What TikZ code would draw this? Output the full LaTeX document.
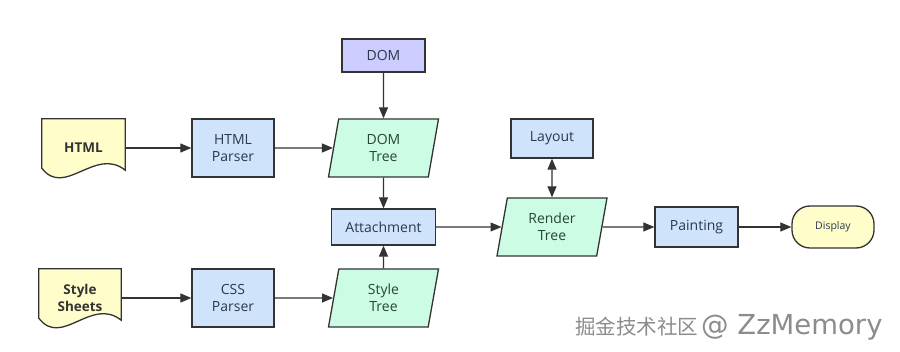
\documentclass[tikz,border=0pt]{standalone}
\usepackage{fontspec}
\setmainfont{Open Sans}
\newfontfamily\cjkfont{Noto Sans CJK SC}
\newfontfamily\markfont{DejaVu Sans}
\usepackage{xcolor}
\usetikzlibrary{shapes.geometric, arrows.meta, calc, backgrounds}

\definecolor{parserblue}{HTML}{CFE3FA}
\definecolor{domviolet}{HTML}{CCCCFF}
\definecolor{treegreen}{HTML}{CCFCE4}
\definecolor{docyellow}{HTML}{FFFDC9}
\definecolor{edgegray}{HTML}{333333}
\definecolor{boxtext}{HTML}{2A3A4C}
\definecolor{treetext}{HTML}{284536}

\begin{document}
\begin{tikzpicture}[x=1pt, y=-1pt]

  %% Canvas
  \useasboundingbox (0,0) rectangle (900,352);

  %% Styles
  \tikzset{
    procbox/.style={draw=edgegray, line width=1.3pt, fill=parserblue, text=boxtext,
      align=center, inner sep=2pt, font=\fontsize{14}{17}\selectfont},
    treebox/.style={trapezium, trapezium left angle=72, trapezium right angle=108,
      trapezium stretches body, draw=edgegray, line width=1.3pt, fill=treegreen,
      text=treetext, align=center, inner sep=2pt, minimum width=110pt,
      minimum height=58pt, font=\fontsize{14}{17}\selectfont},
    docbox/.style={minimum width=83pt, minimum height=58pt, align=center,
      inner sep=2pt, text=edgegray, font=\fontsize{13.5}{17}\selectfont\bfseries},
    docline/.style={draw=edgegray, line width=1.3pt, fill=docyellow},
    flowarrow/.style={-{Triangle[length=11pt, width=9pt]}, line width=1.2pt, draw=edgegray},
    bothway/.style={{Triangle[length=11pt, width=9pt]}-{Triangle[length=11pt, width=9pt]},
      line width=1.2pt, draw=edgegray}
  }

  %% Sources
  \node[docbox] (html) at (83.5,148) {HTML};
  \node[docbox, minimum width=82pt] (sheets) at (80,298) {Style\\Sheets};

  \begin{scope}[on background layer]
    \fill[white] (0,0) rectangle (900,352);
    \foreach \d in {html, sheets}{
      \draw[docline] (\d.north west) -- ($(\d.south west)+(0,-9)$)
        .. controls ($(\d.south west)+(23,21)$) and ($(\d.south east)+(-30,-31)$)
        .. ($(\d.south east)+(0,-7)$) -- (\d.north east) -- cycle;
    }
  \end{scope}

  %% Parsers and trees
  \node[procbox, minimum width=82pt, minimum height=58pt] (hparser) at (233,148) {HTML\\Parser};
  \node[procbox, minimum width=82pt, minimum height=58pt] (cparser) at (233,298) {CSS\\Parser};
  \node[procbox, fill=domviolet, minimum width=83pt, minimum height=33pt] (dom) at (383.5,55.5) {DOM};
  \node[treebox] (domtree) at (383.5,148) {DOM\\Tree};
  \node[treebox] (styletree) at (383.5,298) {Style\\Tree};
  \node[procbox, minimum width=104pt, minimum height=36pt] (attach) at (383.5,227) {Attachment};

  %% Rendering
  \node[procbox, minimum width=82pt, minimum height=39pt] (layout) at (552,138.5) {Layout};
  \node[treebox] (rendertree) at (552,227) {Render\\Tree};
  \node[procbox, minimum width=83pt, minimum height=40pt] (paint) at (696.5,227) {Painting};
  \node[procbox, fill=docyellow, rounded corners=18pt, minimum width=82pt, minimum height=42pt,
    font=\fontsize{10.5}{12}\selectfont] (display) at (833,227) {Display};

  %% Connectors
  \foreach \a/\b in {html/hparser, hparser/domtree, dom/domtree, domtree/attach,
      sheets/cparser, cparser/styletree, styletree/attach, attach/rendertree,
      rendertree/paint, paint/display}{
    \draw[flowarrow] (\a) -- (\b);
  }
  \draw[bothway] (layout) -- (rendertree);

  %% Watermark
  \node[anchor=base west, inner sep=0pt, text=black!45] (mark) at (575,335)
    {\cjkfont\fontsize{20.5}{20}\selectfont 掘金技术社区\hspace{3pt}\markfont\fontsize{27.5}{27}\selectfont @ ZzMemory};

\end{tikzpicture}
\end{document}
